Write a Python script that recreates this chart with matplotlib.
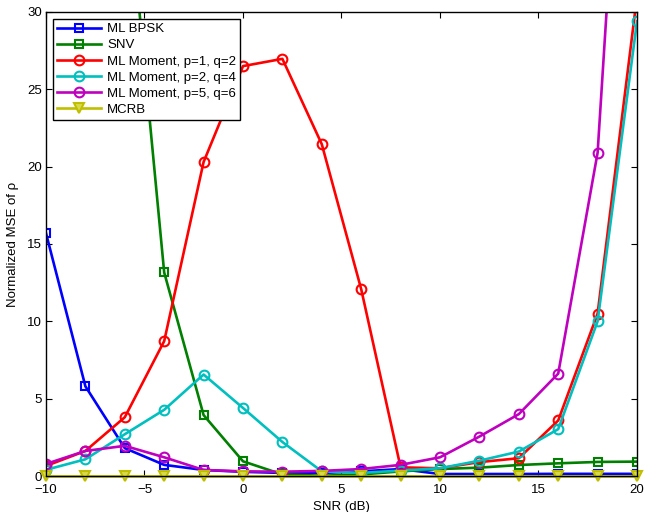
import numpy as np
import matplotlib
matplotlib.use("Agg")
import matplotlib.pyplot as plt

plt.rcParams['font.family'] = ['Liberation Sans', 'DejaVu Sans']

# SNR grid (dB)
snr = [-10, -8, -6, -4, -2, 0, 2, 4, 6, 8, 10, 12, 14, 16, 18, 20]

# normalized MSE of rho
ml_bpsk = [15.7, 5.8, 1.8, 0.72, 0.39, 0.27, 0.2, 0.2, 0.3, 0.45, 0.13, 0.13, 0.13, 0.14, 0.14, 0.14]
snv = [80.0, 60.0, 40.0, 13.16, 3.94, 0.95, 0.1, 0.02, 0.1, 0.3, 0.45, 0.54, 0.71, 0.82, 0.91, 0.93]
mom_12 = [0.65, 1.62, 3.8, 8.72, 20.3, 26.5, 26.97, 21.45, 12.08, 0.56, 0.5, 0.9, 1.15, 3.59, 10.5, 31.0]
mom_24 = [0.4, 1.08, 2.7, 4.28, 6.56, 4.4, 2.2, 0.3, 0.2, 0.35, 0.5, 0.99, 1.58, 3.03, 10.0, 29.4]
mom_56 = [0.78, 1.62, 1.95, 1.21, 0.39, 0.3, 0.28, 0.33, 0.45, 0.72, 1.21, 2.55, 4.0, 6.62, 20.9, 61.0]
mcrb = [0.02, 0.02, 0.02, 0.02, 0.02, 0.02, 0.02, 0.02, 0.02, 0.02, 0.02, 0.02, 0.02, 0.02, 0.02, 0.02]

labels = ['ML BPSK', 'SNV', 'ML Moment, p=1, q=2', 'ML Moment, p=2, q=4',
          'ML Moment, p=5, q=6', 'MCRB']

fig = plt.figure(figsize=(6.45, 5.12), dpi=100)
ax = fig.add_axes([0.0713, 0.0703, 0.9163, 0.9063])

lw = 1.9
ax.plot(snr, ml_bpsk, color=(0, 0, 1), marker='s', ms=5.5, mfc='none', mew=1.5, lw=lw, label=labels[0])
ax.plot(snr, snv, color=(0, 0.5, 0), marker='s', ms=5.5, mfc='none', mew=1.5, lw=lw, label=labels[1])
ax.plot(snr, mom_12, color=(1, 0, 0), marker='o', ms=7, mfc='none', mew=1.5, lw=lw, label=labels[2])
ax.plot(snr, mom_24, color=(0, 0.75, 0.75), marker='o', ms=7, mfc='none', mew=1.5, lw=lw, label=labels[3])
ax.plot(snr, mom_56, color=(0.75, 0, 0.75), marker='o', ms=7, mfc='none', mew=1.5, lw=lw, label=labels[4])
ax.plot(snr, mcrb, color=(0.75, 0.75, 0), marker='v', ms=7, mfc=(0.85, 0.85, 0.3), mew=1.5, lw=lw,
        label=labels[5], clip_on=False)

ax.set_xlim(-10, 20)
ax.set_ylim(0, 30)
ax.set_xticks([-10, -5, 0, 5, 10, 15, 20])
ax.set_xticklabels(['\u221210', '\u22125', '0', '5', '10', '15', '20'])
ax.set_yticks([0, 5, 10, 15, 20, 25, 30])
ax.tick_params(direction='in', top=True, right=True, labelsize=9.5, length=4, width=0.8)
ax.tick_params(axis='x', pad=6)
ax.tick_params(axis='y', pad=3)
for s in ax.spines.values():
    s.set_linewidth(1.0)

ax.set_xlabel('SNR (dB)', fontsize=9.5, labelpad=3)
ax.set_ylabel('Normalized MSE of \u03c1', fontsize=9.5, labelpad=6)

leg = ax.legend(loc='upper left', bbox_to_anchor=(0.012, 0.985), borderaxespad=0, fontsize=9.5,
                handlelength=3.3, handletextpad=0.5, labelspacing=0.3, borderpad=0.3,
                fancybox=False, framealpha=1, edgecolor='black')
leg.get_frame().set_linewidth(1.0)

fig.savefig('out.png', dpi=100)
